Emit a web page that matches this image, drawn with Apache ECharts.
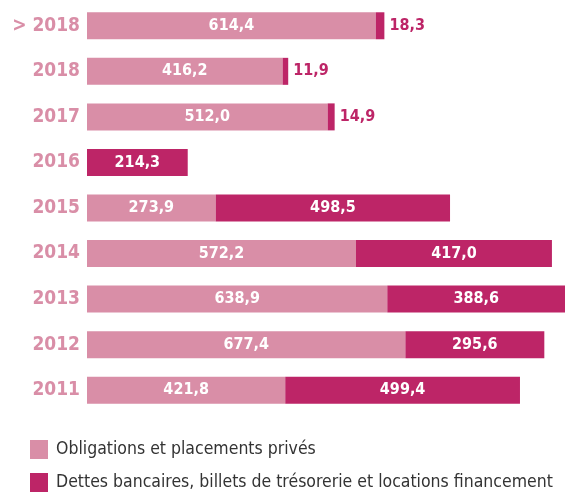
<!DOCTYPE html>
<html>
<head>
<meta charset="utf-8">
<script src="https://cdn.jsdelivr.net/npm/echarts@6/dist/echarts.min.js"></script>
<style>
  html, body { margin: 0; padding: 0; background: #fff; }
  #chart { width: 565px; height: 493px; }
</style>
</head>
<body>
<div id="chart"></div>
<script>
(function () {
    var categories = ['> 2018', '2018', '2017', '2016', '2015', '2014', '2013', '2012', '2011'];
    var obligations = [614.4, 416.2, 512.0, 0, 273.9, 572.2, 638.9, 677.4, 421.8];
    var dettes = [18.3, 11.9, 14.9, 214.3, 498.5, 417.0, 388.6, 295.6, 499.4];
    var seriesNames = ['Obligations et placements privés', 'Dettes bancaires, billets de trésorerie et locations financement'];

    var light = '#d98ea7';
    var dark = '#bd2567';
    var font = '"DejaVu Sans Condensed", "Liberation Sans Narrow", sans-serif';

    function fmt(v) {
        return v.toFixed(1).replace('.', ',');
    }

    // petites valeurs : étiquette à droite de la barre
    var detteData = dettes.map(function (v) {
        if (v < 50) {
            return {
                value: v,
                label: { position: 'right', color: dark, distance: 5 }
            };
        }
        return v;
    });

    var option = {
        animation: false,
        grid: { left: 87, top: 3, bottom: 80, right: 0 },
        xAxis: {
            type: 'value',
            min: 0,
            max: 1017,
            show: false
        },
        yAxis: {
            type: 'category',
            inverse: true,
            data: categories,
            axisLine: { show: false },
            axisTick: { show: false },
            splitLine: { show: false },
            axisLabel: {
                color: light,
                fontFamily: font,
                fontWeight: 'bold',
                fontSize: 19,
                margin: 7
            }
        },
        legend: {
            orient: 'vertical',
            left: 30,
            top: 440,
            padding: 0,
            itemWidth: 18,
            itemHeight: 19,
            itemGap: 14,
            icon: 'rect',
            textStyle: { fontFamily: font, fontSize: 17.5, color: '#333', padding: [0, 0, 0, 3] },
            data: seriesNames
        },
        series: [
            {
                name: seriesNames[0],
                type: 'bar',
                stack: 'total',
                barWidth: 27,
                itemStyle: { color: light },
                label: {
                    show: true,
                    position: 'inside',
                    color: '#fff',
                    fontFamily: font,
                    fontWeight: 'bold',
                    fontSize: 16,
                    formatter: function (p) { return p.value > 0 ? fmt(p.value) : ''; }
                },
                data: obligations
            },
            {
                name: seriesNames[1],
                type: 'bar',
                stack: 'total',
                barWidth: 27,
                itemStyle: { color: dark },
                label: {
                    show: true,
                    position: 'inside',
                    color: '#fff',
                    fontFamily: font,
                    fontWeight: 'bold',
                    fontSize: 16,
                    formatter: function (p) { return fmt(p.value); }
                },
                data: detteData
            }
        ]
    };

    var chart = echarts.init(document.getElementById('chart'));
    chart.setOption(option);
})();
</script>
</body>
</html>
